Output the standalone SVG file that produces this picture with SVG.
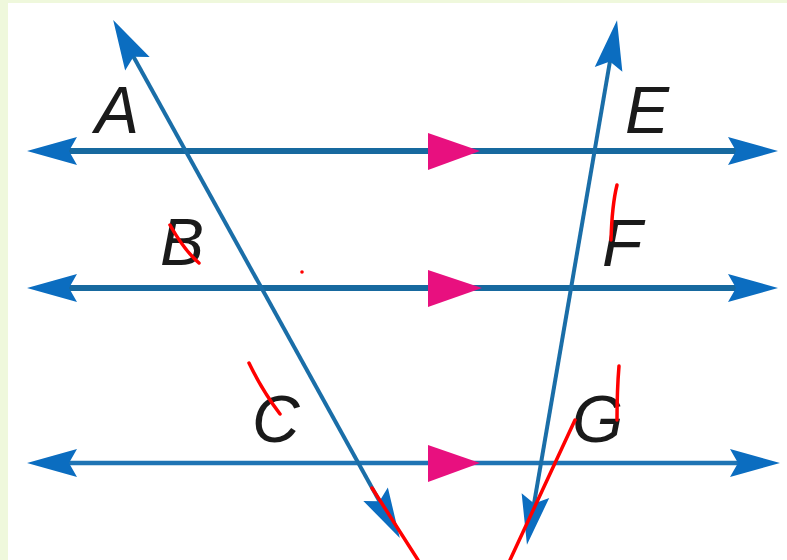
<svg xmlns="http://www.w3.org/2000/svg" width="787" height="560" viewBox="0 0 787 560">
<style>
.hl{stroke:#17699f;stroke-width:6;fill:none}
.hl3{stroke:#1f74b4;stroke-width:4.5;fill:none}
.tr{stroke:#1a6ea8;stroke-width:4;fill:none}
.pm{fill:#e8107f}
.lbl{font-family:"Liberation Sans",Arial,sans-serif;font-style:italic;font-size:66px;fill:#1a1a1a}
.red{stroke:#ff0000;stroke-width:3.5;fill:none;stroke-linecap:round}
</style>
<defs>
<marker id="arr" viewBox="-52 -16 54 32" refX="-12" refY="0" markerWidth="54" markerHeight="32" markerUnits="userSpaceOnUse" orient="auto-start-reverse">
<path d="M0,0 L-50,-14 L-42,0 L-50,14 Z" fill="#0b6dc0"/>
</marker>
</defs>
<rect x="0" y="0" width="787" height="560" fill="#eff8dc"/>
<rect x="8" y="3" width="779" height="557" fill="#ffffff"/>
<g id="connectors">
<line id="line1" class="hl" x1="39" y1="151" x2="766" y2="151" marker-start="url(#arr)" marker-end="url(#arr)"/>
<line id="line2" class="hl" x1="39" y1="288" x2="766" y2="288" marker-start="url(#arr)" marker-end="url(#arr)"/>
<line id="line3" class="hl3" x1="39" y1="463" x2="768" y2="463" marker-start="url(#arr)" marker-end="url(#arr)"/>
<line id="trans1" class="tr" x1="119" y1="30.5" x2="394" y2="527.5" marker-start="url(#arr)" marker-end="url(#arr)"/>
<line id="trans2" class="tr" x1="615" y1="32" x2="529" y2="533" marker-start="url(#arr)" marker-end="url(#arr)"/>
</g>
<g id="parallel-marks">
<polygon class="pm" points="428,133 480,151 428,170"/>
<polygon class="pm" points="428,270 482,288 428,307"/>
<polygon class="pm" points="428,445 480,463 428,482"/>
</g>
<g id="node-A"><text class="lbl" x="95" y="133">A</text></g>
<g id="node-E"><text class="lbl" x="625" y="133">E</text></g>
<g id="node-B"><text class="lbl" x="160" y="265">B</text></g>
<g id="node-F"><text class="lbl" x="602" y="266">F</text></g>
<g id="node-C"><text class="lbl" x="252" y="442">C</text></g>
<g id="node-G"><text class="lbl" x="572" y="442">G</text></g>
<g id="annotations">
<path class="red" d="M170,225 Q184,250 199,263"/>
<circle cx="302" cy="272" r="1.8" fill="#ff0000"/>
<path class="red" d="M617,185 Q612,205 611,240"/>
<path class="red" d="M249,363 Q262,390 280,414"/>
<path class="red" d="M619,366 Q617,390 617,420"/>
<path class="red" d="M575,420 L510,560"/>
<path class="red" d="M372,488 L418,560"/>
</g>
</svg>
